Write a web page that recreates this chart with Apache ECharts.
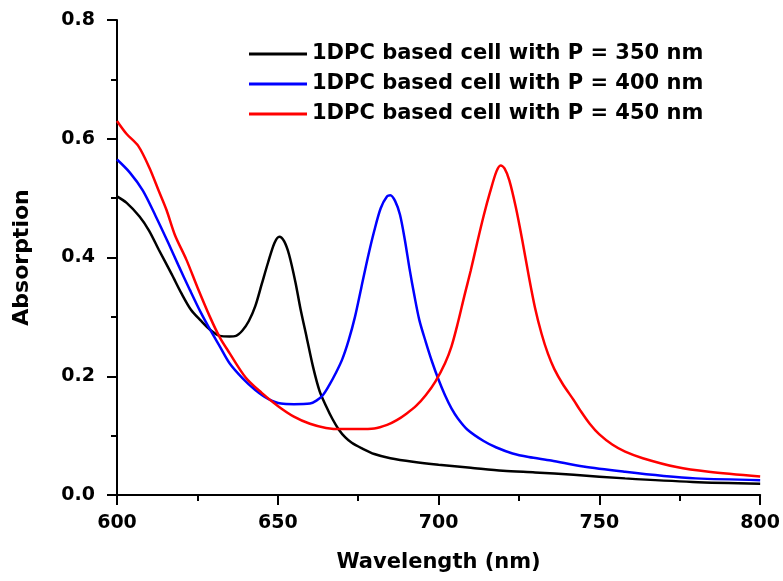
<!DOCTYPE html>
<html>
<head>
<meta charset="utf-8">
<script src="https://cdn.jsdelivr.net/npm/echarts@6/dist/echarts.min.js"></script>
<style>html,body{margin:0;padding:0;background:#fff;}#c{width:783px;height:581px;}</style>
</head>
<body>
<div id="c"></div>
<script>
var seriesNames = ['1DPC based cell with P = 350 nm', '1DPC based cell with P = 400 nm', '1DPC based cell with P = 450 nm'];
var xTicks = [600, 650, 700, 750, 800];
var yTicks = [0.0, 0.2, 0.4, 0.6, 0.8];

var wl350 = [600,603,607,610,613,617,620,623,626,629,632,635,637,639,641,643,645,647,649,650.5,652,653.5,655.5,657,659,661,663,665,667,669,671,673,676,680,685,692,700,710,720,730,742,758,779,800];
var ab350 = [0.503,0.492,0.469,0.445,0.413,0.372,0.340,0.312,0.294,0.278,0.268,0.267,0.268,0.277,0.293,0.318,0.355,0.392,0.425,0.435,0.427,0.405,0.358,0.315,0.265,0.215,0.175,0.150,0.128,0.110,0.097,0.088,0.079,0.069,0.062,0.056,0.051,0.046,0.041,0.038,0.034,0.028,0.022,0.019];

var wl400 = [600,604,608,612,616,619,622.7,626,629,632,635,639,643,647,651,655,660,662,664,666,668,670,672,674,676,678,680,682,684,685,686.5,688,689.5,691,692.5,694,696,698,700,702,704,706,709,714,718,723,728,735,745,758,770,780,800];
var ab400 = [0.565,0.543,0.513,0.470,0.424,0.388,0.345,0.308,0.278,0.250,0.222,0.197,0.177,0.162,0.154,0.153,0.154,0.159,0.168,0.185,0.205,0.228,0.260,0.300,0.350,0.400,0.445,0.483,0.503,0.505,0.495,0.472,0.430,0.380,0.335,0.295,0.258,0.224,0.194,0.168,0.146,0.129,0.110,0.091,0.080,0.070,0.064,0.058,0.048,0.039,0.032,0.028,0.025];

var wl450 = [600,603,606.6,610,613,615.4,618,621.6,625,628.9,632,635,640,645,650,655,660,665,670,675,680,684,687,690,693,696,699,702,704,706,708,710,712,714,716,718,719.3,720.5,722,724,726,728,730,732,734,736,738.6,742,744,747,750,754,758,763.5,774,784,800];
var ab450 = [0.630,0.608,0.588,0.552,0.512,0.480,0.438,0.396,0.350,0.300,0.265,0.239,0.198,0.172,0.150,0.132,0.120,0.113,0.111,0.111,0.112,0.118,0.126,0.137,0.150,0.168,0.191,0.222,0.250,0.290,0.335,0.378,0.425,0.470,0.510,0.545,0.555,0.550,0.530,0.485,0.430,0.370,0.315,0.272,0.238,0.212,0.187,0.160,0.143,0.120,0.102,0.085,0.073,0.062,0.047,0.039,0.031];

function pairs(xs, ys) { return xs.map(function (x, i) { return [x, ys[i]]; }); }

var colors = ['#000000', '#0000ff', '#ff0000'];
var fontFam = 'DejaVu Sans';

var chart = echarts.init(document.getElementById('c'), null, {renderer: 'canvas'});
chart.setOption({
  animation: false,
  backgroundColor: '#ffffff',
  grid: {left: 117, right: 22, top: 20, bottom: 86, containLabel: false},
  legend: {
    orient: 'vertical',
    left: 244,
    top: 38,
    itemWidth: 58,
    itemHeight: 12,
    itemGap: 8,
    icon: 'path://M0,4.6 L58,4.6 L58,7.4 L0,7.4 Z',
    textStyle: {fontFamily: fontFam, fontWeight: 'bold', fontSize: 21, lineHeight: 22, color: '#000'},
    data: seriesNames.map(function (n, i) { return {name: n, itemStyle: {color: colors[i]}}; })
  },
  xAxis: {
    type: 'value',
    min: xTicks[0], max: xTicks[xTicks.length - 1], interval: 50,
    name: 'Wavelength (nm)', nameLocation: 'middle', nameGap: 57,
    nameTextStyle: {fontFamily: fontFam, fontWeight: 'bold', fontSize: 21, color: '#000'},
    axisLine: {lineStyle: {color: '#000', width: 2}},
    axisTick: {inside: false, length: 10, lineStyle: {color: '#000', width: 2}},
    minorTick: {show: true, splitNumber: 2, length: 6, lineStyle: {color: '#000', width: 2}},
    splitLine: {show: false},
    axisLabel: {margin: 19, fontFamily: fontFam, fontWeight: 'bold', fontSize: 19, color: '#000'}
  },
  yAxis: {
    type: 'value',
    min: yTicks[0], max: yTicks[yTicks.length - 1], interval: 0.2,
    name: 'Absorption', nameLocation: 'middle', nameGap: 84, nameRotate: 90,
    nameTextStyle: {fontFamily: fontFam, fontWeight: 'bold', fontSize: 22, color: '#000'},
    axisLine: {show: true, lineStyle: {color: '#000', width: 2}},
    axisTick: {show: true, inside: false, length: 10, lineStyle: {color: '#000', width: 2}},
    minorTick: {show: true, splitNumber: 2, length: 6, lineStyle: {color: '#000', width: 2}},
    splitLine: {show: false},
    axisLabel: {margin: 22, fontFamily: fontFam, fontWeight: 'bold', fontSize: 19, color: '#000',
      formatter: function (v) { return v.toFixed(1); }}
  },
  series: [
    {name: seriesNames[0], type: 'line', data: pairs(wl350, ab350), showSymbol: false, smooth: 0.3, lineStyle: {color: colors[0], width: 2.5}, itemStyle: {color: colors[0]}},
    {name: seriesNames[1], type: 'line', data: pairs(wl400, ab400), showSymbol: false, smooth: 0.3, lineStyle: {color: colors[1], width: 2.5}, itemStyle: {color: colors[1]}},
    {name: seriesNames[2], type: 'line', data: pairs(wl450, ab450), showSymbol: false, smooth: 0.3, lineStyle: {color: colors[2], width: 2.5}, itemStyle: {color: colors[2]}}
  ]
});
</script>
</body>
</html>
